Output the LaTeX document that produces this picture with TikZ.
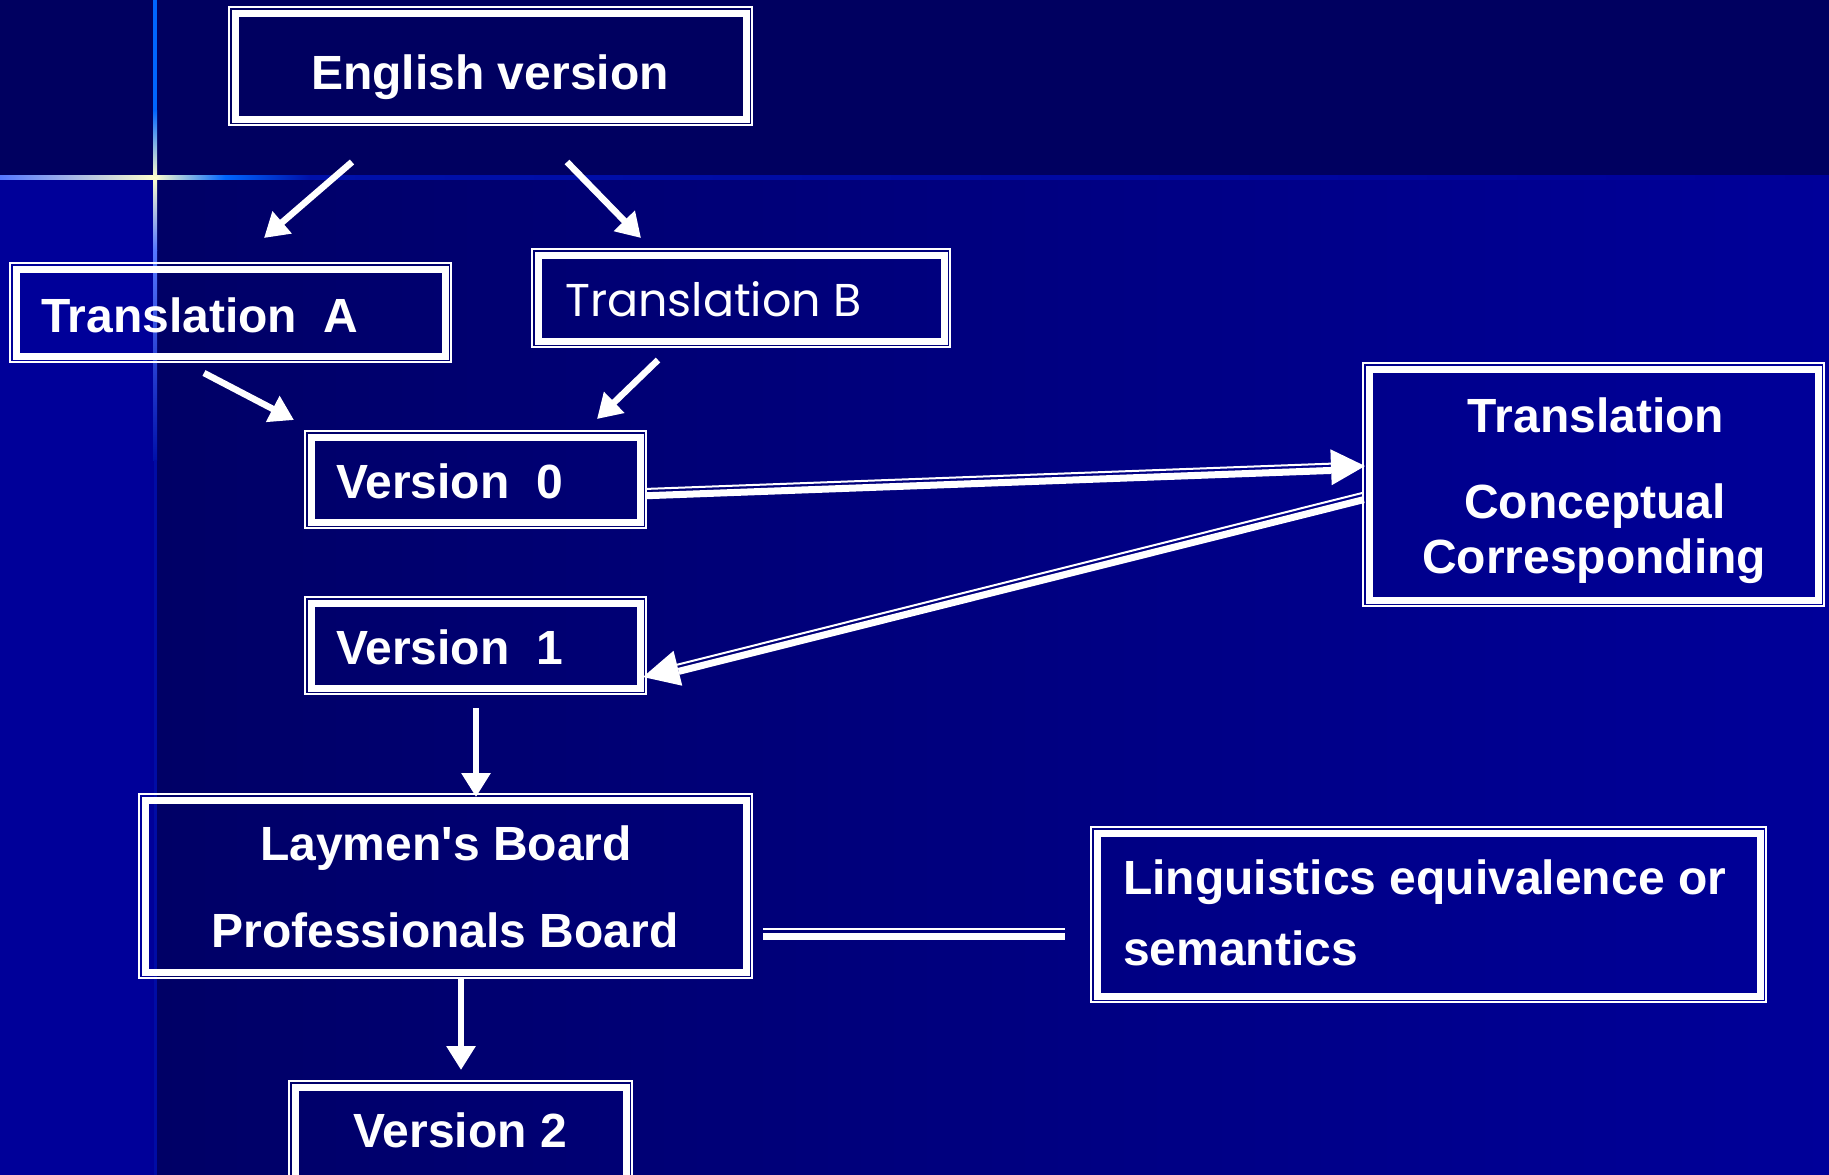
\documentclass[tikz,border=0pt]{standalone}
\usepackage{fontspec}
\setmainfont{Liberation Sans}[Ligatures=TeXOff]
\newfontfamily\comicfont{Poppins}
\usetikzlibrary{arrows.meta,calc}

\definecolor{bandc}{RGB}{0,0,96}
\definecolor{lowc}{RGB}{0,0,153}
\definecolor{midc}{RGB}{0,0,102}
\definecolor{flarec}{RGB}{255,255,204}
\definecolor{brightb}{RGB}{0,102,255}
\definecolor{paleb}{RGB}{85,119,255}
\definecolor{deepb}{RGB}{0,17,170}

\tikzset{
  boxnode/.style={rectangle, draw=none, inner sep=0pt, outer sep=0pt},
  thinborder/.style={draw=white, line width=1.6pt},
  thickborder/.style={draw=white, line width=7pt},
  lbl/.style={text=white, inner sep=0pt, font=\fontsize{48}{58}\selectfont\bfseries},
  comiclbl/.style={text=white, inner sep=0pt, font=\fontsize{46}{56}\selectfont\comicfont},
  sarrow/.style={draw=white, line width=6.5pt, -{Triangle[length=24pt,width=28pt]}},
}

\newcommand\dbox[5]{%
  \node[boxnode, minimum width={#4-#2}, minimum height={#5-#3}] (#1) at ({(#2+#4)/2},{(#3+#5)/2}) {};
  \draw[thinborder] ([xshift=0.8pt,yshift=-0.8pt]#1.north west) rectangle ([xshift=-0.8pt,yshift=0.8pt]#1.south east);
  \draw[thickborder] ([xshift=7pt,yshift=-7pt]#1.north west) rectangle ([xshift=-7pt,yshift=7pt]#1.south east);
}

% #1 start, #2 end, #3 head length, #4 head half width, #5 thin side angle, #6 thick side angle
\newcommand\dblarr[6]{%
  \coordinate (#1#2b) at ($(#2)!#3!(#1)$);
  \fill[white] (#2) -- ($(#1#2b)!#4!90:(#2)$) -- ($(#1#2b)!#4!-90:(#2)$) -- cycle;
  \draw[white, line width=2pt] ($(#1)!3.6pt!#5:(#1#2b)$) -- ($(#1#2b)!3.6pt!#6:(#1)$);
  \draw[white, line width=7pt] ($(#1)!3.2pt!#6:(#1#2b)$) -- ($(#1#2b)!3.2pt!#5:(#1)$);
}

\begin{document}
\begin{tikzpicture}[x=1pt,y=-1pt]
\useasboundingbox (0,0) rectangle (1829,1175);

% background
\fill[bandc] (0,0) rectangle (1829,179);
\fill[lowc] (0,179) rectangle (155,1175);
\shade[left color=midc, right color=lowc] (155,179) rectangle (1829,1175);

% flare lines
\shade[left color=paleb, right color=flarec] (0,175.5) rectangle (155,179.5);
\shade[left color=flarec, right color=brightb] (155,175.5) rectangle (225,179.5);
\shade[left color=brightb, right color=deepb] (225,175.5) rectangle (310,179.5);
\shade[left color=deepb, right color=lowc] (310,175.5) rectangle (1829,179.5);
\fill[brightb] (153,0) rectangle (157,110);
\shade[top color=brightb, bottom color=flarec] (153,110) rectangle (157,177.5);
\shade[top color=flarec, bottom color=paleb] (153,177.5) rectangle (157,250);
\shade[top color=paleb, bottom color=deepb] (153,250) rectangle (157,460);
\fill[color=deepb!70!lowc] (153.5,460) rectangle (156.5,1175);

% boxes
\dbox{eng}{228}{6}{753}{126}
\dbox{ta}{9}{262}{452}{363}
\dbox{tb}{531}{248}{951}{348}
\dbox{vz}{304}{430}{647}{529}
\dbox{vo}{304}{596}{647}{695}
\dbox{tcc}{1362}{362}{1825}{607}
\dbox{lay}{138}{793}{753}{979}
\dbox{ling}{1090}{826}{1767}{1003}
\dbox{vt}{288}{1080}{633}{1200}

% texts
\node[lbl, anchor=base] (teng) at (490,89) {English version};
\node[lbl, anchor=base west] (tta) at (41,332) {Translation\ \ A};
\node[comiclbl, anchor=base west] (ttb) at (565,316) {Translation B};
\node[lbl, anchor=base west] (tvz) at (336,498) {Version\ \ 0};
\node[lbl, anchor=base west] (tvo) at (336,664) {Version\ \ 1};
\node[lbl, anchor=base] (ttc1) at (1596,432) {Translation};
\node[lbl, anchor=base] (ttc2) at (1595,518) {Conceptual};
\node[lbl, anchor=base] (ttc3) at (1594,573) {Corresponding};
\node[lbl, anchor=base] (tlay1) at (446,860) {Laymen's Board};
\node[lbl, anchor=base] (tlay2) at (445,947) {Professionals Board};
\node[lbl, anchor=base west] (tling1) at (1123,894) {Linguistics equivalence or};
\node[lbl, anchor=base west] (tling2) at (1123,965) {semantics};
\node[lbl, anchor=base] (tvt) at (460,1147) {Version 2};

% arrow end points
\coordinate (a1s) at (352,162);  \coordinate (a1e) at (264,238);
\coordinate (a2s) at (567,162);  \coordinate (a2e) at (641,238);
\coordinate (a3s) at (204,373);  \coordinate (a3e) at (294,420);
\coordinate (a4s) at (658,360);  \coordinate (a4e) at (597,419);
\coordinate (a7s) at (476,708);  \coordinate (a7e) at (476,797);
\coordinate (a8s) at (461,979);  \coordinate (a8e) at (461,1070);
\coordinate (a5s) at (647,492.5); \coordinate (a5e) at (1365,466);
\coordinate (a6s) at (1363,496.5); \coordinate (a6e) at (643,677);
\coordinate (c1) at (763,933);   \coordinate (c2) at (1065,933);

\draw[sarrow] (a1s) -- (a1e);
\draw[sarrow] (a2s) -- (a2e);
\draw[sarrow] (a3s) -- (a3e);
\draw[sarrow] (a4s) -- (a4e);
\draw[sarrow] (a7s) -- (a7e);
\draw[sarrow] (a8s) -- (a8e);

\dblarr{a5s}{a5e}{34pt}{18pt}{90}{-90}
\dblarr{a6s}{a6e}{36pt}{18pt}{-90}{90}

\draw[white, line width=2pt] ([yshift=3.8pt]c1) -- ([yshift=3.8pt]c2);
\draw[white, line width=7pt] ([yshift=-3.3pt]c1) -- ([yshift=-3.3pt]c2);
\end{tikzpicture}
\end{document}
